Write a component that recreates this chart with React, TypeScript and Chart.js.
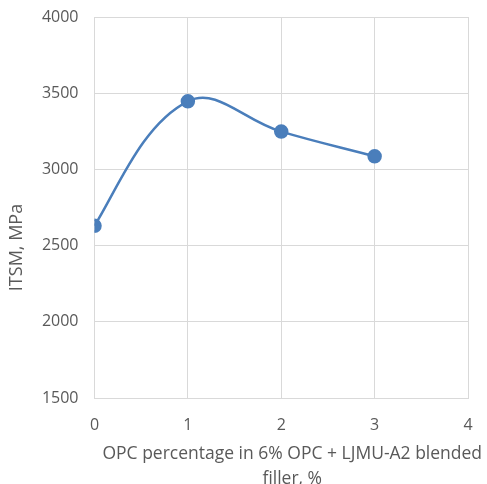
import React, { useEffect, useRef } from "react";
import { Chart, registerables } from "chart.js";
Chart.register(...registerables);

const xValues = [0, 1, 2, 3];
const itsmValues = [2630, 3447, 3248, 3086];
const xTicks = [0, 1, 2, 3, 4];
const yTicks = [1500, 2000, 2500, 3000, 3500, 4000];
const xTitle = ["OPC percentage in 6% OPC + LJMU-A2 blended", "filler, %"];
const yTitle = "ITSM, MPa";

const FONT = "'Open Sans', 'DejaVu Sans', sans-serif";
const TEXT = "#595959";

const titlePlugin = {
  id: "axisTitles",
  afterDraw(chart: any) {
    const ctx = chart.ctx;
    const area = chart.chartArea;
    ctx.save();
    ctx.fillStyle = TEXT;
    ctx.textAlign = "center";
    ctx.textBaseline = "middle";
    ctx.font = `17.5px ${FONT}`;
    const cx = (area.left + area.right) / 2 + 11;
    ctx.fillText(xTitle[0], cx, area.bottom + 56);
    ctx.fillText(xTitle[1], cx, area.bottom + 81);
    ctx.translate(16.5, (area.top + area.bottom) / 2 + 40);
    ctx.rotate(-Math.PI / 2);
    ctx.font = `18px ${FONT}`;
    ctx.fillText(yTitle, 0, 0);
    ctx.restore();
  },
};

// Excel-like smoothing at the first point: tangent between chord and the
// neighbouring control point, computed from the library's own point positions.
const endTangentPlugin = {
  id: "endTangent",
  beforeDatasetDraw(chart: any, args: any) {
    const meta = args.meta;
    const line = meta.dataset;
    if (!line || meta.data.length < 2) return;
    line.updateControlPoints(chart.chartArea, "x");
    const p0 = meta.data[0];
    const p1 = meta.data[1];
    const ax = (p1.x - p0.x + (p1.cp1x - p0.x)) / 2;
    const ay = (p1.y - p0.y + (p1.cp1y - p0.y)) / 2;
    p0.cp2x = p0.x + ax * 0.33;
    p0.cp2y = p0.y + ay * 0.33;
  },
};

const noPad = (s: any) => {
  s.paddingTop = 0;
  s.paddingBottom = 0;
  s.paddingLeft = 0;
  s.paddingRight = 0;
};

export default function App() {
  const ref = useRef<HTMLCanvasElement>(null);
  useEffect(() => {
    document.body.style.margin = "0";
    const chart = new Chart(ref.current!, {
      type: "scatter",
      data: {
        datasets: [
          {
            data: xValues.map((x, i) => ({ x, y: itsmValues[i] })),
            showLine: true,
            borderColor: "#4a7ebb",
            backgroundColor: "#4a7ebb",
            borderWidth: 2.5,
            pointRadius: 6,
            pointHoverRadius: 6,
            tension: 0.4,
          },
        ],
      },
      options: {
        animation: false,
        responsive: false,
        maintainAspectRatio: false,
        layout: { padding: { left: 0, right: 19, top: 17, bottom: 0 } },
        plugins: { legend: { display: false }, tooltip: { enabled: false } },
        scales: {
          x: {
            type: "linear",
            min: 0,
            max: 4,
            afterBuildTicks: (s: any) => {
              s.ticks = xTicks.map((v) => ({ value: v }));
            },
            afterFit: (s: any) => {
              s.height = 86;
              noPad(s);
            },
            grid: { color: "#d9d9d9", drawTicks: false },
            border: { color: "#d9d9d9" },
            ticks: {
              color: TEXT,
              font: { family: FONT, size: 16 },
              padding: 18,
              callback: (v: any) => String(v),
            },
          },
          y: {
            min: 1500,
            max: 4000,
            afterBuildTicks: (s: any) => {
              s.ticks = yTicks.map((v) => ({ value: v }));
            },
            afterFit: (s: any) => {
              s.width = 94.5;
              noPad(s);
            },
            grid: { color: "#d9d9d9", drawTicks: false },
            border: { color: "#d9d9d9" },
            ticks: {
              color: TEXT,
              font: { family: FONT, size: 16 },
              padding: 16,
              callback: (v: any) => String(v),
            },
          },
        },
      },
      plugins: [endTangentPlugin, titlePlugin],
    });
    return () => chart.destroy();
  }, []);
  return (
    <div style={{ width: 487, height: 484 }}>
      <canvas ref={ref} width={487} height={484} />
    </div>
  );
}
